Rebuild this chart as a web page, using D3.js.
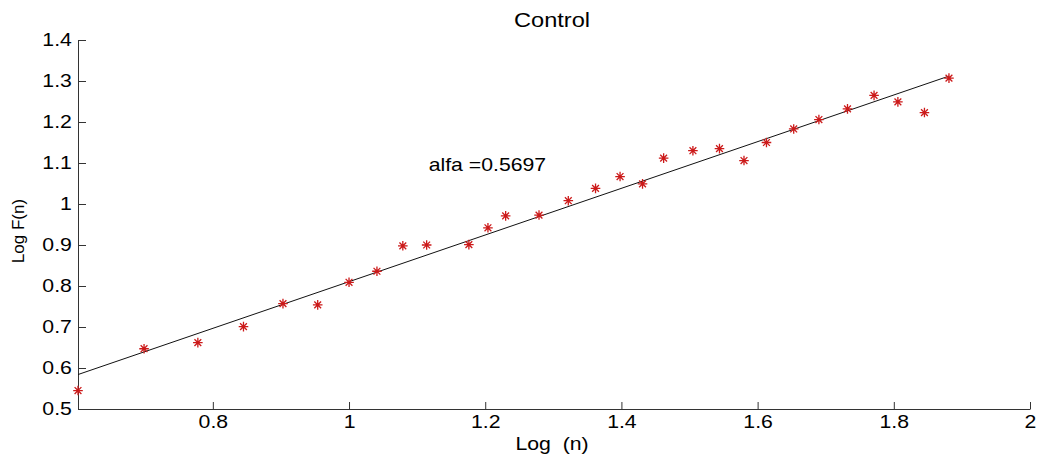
<!DOCTYPE html>
<html>
<head>
<meta charset="utf-8">
<script src="https://cdn.jsdelivr.net/npm/d3@7"></script>
<style>
  html, body { margin: 0; padding: 0; background: #fff; }
  svg { display: block; }
  text { font-family: "Liberation Sans", Arial, sans-serif; fill: #000; white-space: pre; }
</style>
</head>
<body>
<svg id="chart" width="1039" height="458"></svg>
<script>
// ---- data ----
const logN = [0.602, 0.699, 0.778, 0.845, 0.903, 0.954, 1.000, 1.041, 1.079, 1.114,
              1.176, 1.204, 1.230, 1.279, 1.322, 1.362, 1.398, 1.431, 1.462, 1.505,
              1.544, 1.580, 1.613, 1.653, 1.690, 1.732, 1.771, 1.806, 1.845, 1.881];
const logF = [0.545, 0.647, 0.662, 0.701, 0.757, 0.754, 0.809, 0.836, 0.898, 0.900,
              0.901, 0.942, 0.971, 0.973, 1.008, 1.038, 1.067, 1.049, 1.112, 1.130,
              1.135, 1.106, 1.150, 1.183, 1.206, 1.232, 1.265, 1.249, 1.223, 1.307];
const fitX = [0.602, 1.881];
const fitY = [0.584, 1.312];
const xTicks = [0.8, 1, 1.2, 1.4, 1.6, 1.8, 2];
const xTickLabels = ["0.8", "1", "1.2", "1.4", "1.6", "1.8", "2"];
const yTicks = [0.5, 0.6, 0.7, 0.8, 0.9, 1.0, 1.1, 1.2, 1.3, 1.4];
const yTickLabels = ["0.5", "0.6", "0.7", "0.8", "0.9", "1", "1.1", "1.2", "1.3", "1.4"];
const titleText = "Control";
const xLabel = "Log  (n)";
const yLabel = "Log F(n)";
const annotation = { x: 1.117, y: 1.08, text: "alfa =0.5697" };

// ---- layout ----
const X0 = 78, X1 = 1030, Y0 = 409, Y1 = 40;
const SX = 1.18; // horizontal stretch of text in the reference
const svg = d3.select("#chart");
const x = d3.scaleLinear().domain([0.602, 2]).range([X0, X1]);
const y = d3.scaleLinear().domain([0.5, 1.4]).range([Y0, Y1]);

// axes
const xAxis = d3.axisBottom(x).tickValues(xTicks)
  .tickFormat((d, i) => xTickLabels[i]).tickSizeInner(-7).tickSizeOuter(0).tickPadding(6);
const yAxis = d3.axisLeft(y).tickValues(yTicks)
  .tickFormat((d, i) => yTickLabels[i]).tickSizeInner(-8).tickSizeOuter(0).tickPadding(5);

const gx = svg.append("g").attr("transform", `translate(0,${Y0})`).call(xAxis);
const gy = svg.append("g").attr("transform", `translate(${X0},0)`).call(yAxis);
[gx, gy].forEach(g => {
  g.select(".domain").attr("stroke", "#333");
  g.selectAll(".tick line").attr("stroke", "#333");
  g.selectAll(".tick text")
    .attr("font-family", "Liberation Sans, Arial, sans-serif")
    .attr("font-size", 18).attr("fill", "#000");
});
gx.selectAll(".tick text").attr("transform", `scale(${SX},1)`);
gy.selectAll(".tick text").attr("x", -5.2).attr("transform", `scale(${SX},1)`);

// fit line
svg.append("path")
  .attr("d", d3.line().x(d => x(d[0])).y(d => y(d[1]))(fitX.map((v, i) => [v, fitY[i]])))
  .attr("fill", "none").attr("stroke", "#111").attr("stroke-width", 1);

// asterisk markers
const r = 4.8, rd = 3.4;
const star = `M${-r},0H${r}M0,${-r}V${r}M${-rd},${-rd}L${rd},${rd}M${-rd},${rd}L${rd},${-rd}`;
svg.append("g").selectAll("path").data(logN.map((v, i) => [v, logF[i]])).join("path")
  .attr("transform", d => `translate(${x(d[0])},${y(d[1])})`)
  .attr("d", star).attr("fill", "none").attr("stroke", "#cc1a1a").attr("stroke-width", 1.3);

// texts
function stretchedText(px, py, txt, size, anchor) {
  svg.append("text")
    .attr("transform", `translate(${px},${py}) scale(${SX},1)`)
    .attr("text-anchor", anchor).attr("font-size", size).text(txt);
}
stretchedText(552, 27, titleText, 20, "middle");
stretchedText(552, 450, xLabel, 18, "middle");
stretchedText(x(annotation.x), y(annotation.y), annotation.text, 18, "start");

svg.append("text")
  .attr("transform", `translate(24,231) rotate(-90)`)
  .attr("text-anchor", "middle").attr("font-size", 17).text(yLabel);
</script>
</body>
</html>
